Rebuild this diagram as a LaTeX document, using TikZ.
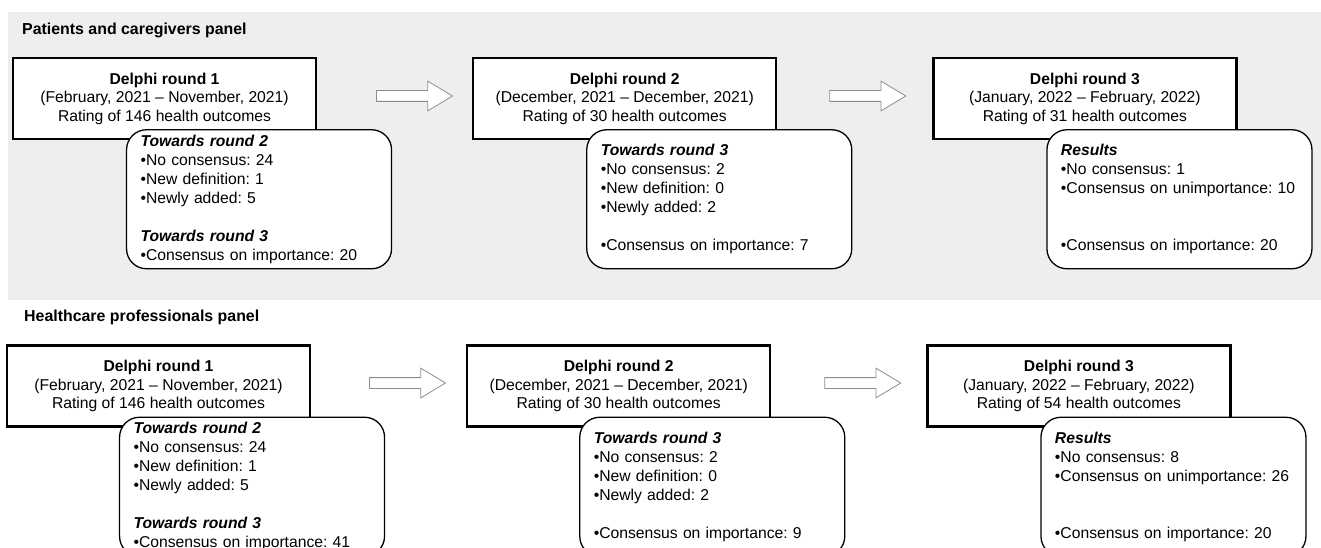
\documentclass[tikz,border=0pt]{standalone}
\usepackage{fontspec}
\setmainfont{Liberation Sans}
\usepackage{xcolor}
\usepackage{tikz}
\usetikzlibrary{positioning,calc,shapes.arrows}
\definecolor{Panel}{HTML}{EEEEEE}
\definecolor{Outline}{HTML}{8C8C8C}
\frenchspacing

\begin{document}
\begin{tikzpicture}[x=1pt,y=1pt,
  roundbox/.style={draw,line width=2.2pt,fill=white,minimum width=303pt,minimum height=81pt,inner sep=0pt,align=center,font=\fontsize{15.7}{18.5}\selectfont},
  tallybox/.style={draw,line width=1.3pt,rounded corners=20pt,fill=white,text width=237pt,inner xsep=14pt,inner ysep=0pt,minimum height=139pt,align=left,anchor=north west,font=\fontsize{15.7}{19}\selectfont},
  nextarrow/.style={single arrow,draw=Outline,fill=white,line width=0.8pt,inner sep=5pt,minimum height=76pt,single arrow head extend=9.5pt,single arrow tip angle=62},
  paneltitle/.style={anchor=west,inner sep=0pt,font=\bfseries\fontsize{15.9}{18.5}\selectfont}]
  \useasboundingbox (0,0) rectangle (1321,-548);
  \fill[Panel] (8,-12) rectangle (1321,-300);

  \node[paneltitle] (pctitle) at (22,-30.5) {Patients and caregivers panel};
  \node[roundbox] (pc1) at (164.5,-98.5) {\textbf{Delphi round 1}\\(February, 2021 – November, 2021)\\Rating of 146 health outcomes};
  \node[roundbox,right=155pt of pc1] (pc2) {\textbf{Delphi round 2}\\(December, 2021 – December, 2021)\\Rating of 30 health outcomes};
  \node[roundbox,right=155pt of pc2] (pc3) {\textbf{Delphi round 3}\\(January, 2022 – February, 2022)\\Rating of 31 health outcomes};
  \node[nextarrow,right=59pt of pc1,yshift=2.5pt] (pca1) {};
  \node[nextarrow,right=52pt of pc2,yshift=2.5pt] (pca2) {};
  \node[tallybox] (pct1) at ($(pc1.south west)+(114,11)$) {\textbf{\textit{Towards round 2}}\\•No consensus: 24\\•New definition: 1\\•Newly added: 5\\[19pt]\textbf{\textit{Towards round 3}}\\•Consensus on importance: 20};
  \node[tallybox] (pct2) at ($(pc2.south west)+(114,11)$) {\textbf{\textit{Towards round 3}}\\•No consensus: 2\\•New definition: 0\\•Newly added: 2\\[19pt]•Consensus on importance: 7};
  \node[tallybox] (pct3) at ($(pc3.south west)+(114,11)$) {\textbf{\textit{Results}}\\•No consensus: 1\\•Consensus on unimportance: 10\\[38pt]•Consensus on importance: 20};

  \node[paneltitle] (hptitle) at (24,-317.5) {Healthcare professionals panel};
  \node[roundbox] (hp1) at (158.5,-386) {\textbf{Delphi round 1}\\(February, 2021 – November, 2021)\\Rating of 146 health outcomes};
  \node[roundbox,right=155pt of hp1] (hp2) {\textbf{Delphi round 2}\\(December, 2021 – December, 2021)\\Rating of 30 health outcomes};
  \node[roundbox,right=155pt of hp2] (hp3) {\textbf{Delphi round 3}\\(January, 2022 – February, 2022)\\Rating of 54 health outcomes};
  \node[nextarrow,right=58pt of hp1,yshift=3pt] (hpa1) {};
  \node[nextarrow,right=53pt of hp2,yshift=3pt] (hpa2) {};
  \node[tallybox] (hpt1) at ($(hp1.south west)+(113,11)$) {\textbf{\textit{Towards round 2}}\\•No consensus: 24\\•New definition: 1\\•Newly added: 5\\[19pt]\textbf{\textit{Towards round 3}}\\•Consensus on importance: 41};
  \node[tallybox] (hpt2) at ($(hp2.south west)+(113,11)$) {\textbf{\textit{Towards round 3}}\\•No consensus: 2\\•New definition: 0\\•Newly added: 2\\[19pt]•Consensus on importance: 9};
  \node[tallybox] (hpt3) at ($(hp3.south west)+(114,11)$) {\textbf{\textit{Results}}\\•No consensus: 8\\•Consensus on unimportance: 26\\[38pt]•Consensus on importance: 20};
\end{tikzpicture}
\end{document}
